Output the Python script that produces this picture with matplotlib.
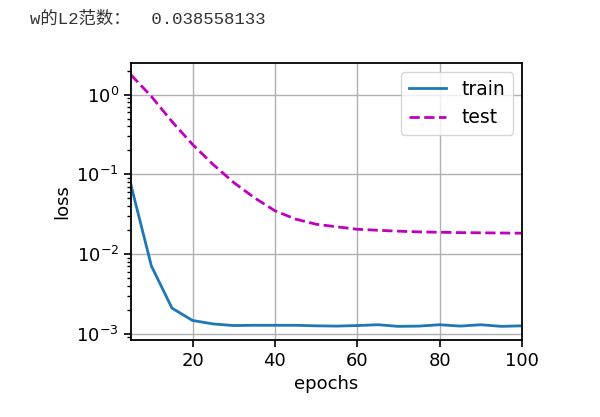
import matplotlib
matplotlib.use("Agg")
import matplotlib.pyplot as plt

epochs = [5, 10, 15, 20, 25, 30, 35, 40, 45, 50, 55, 60, 65, 70, 75, 80, 85, 90, 95, 100]
train_loss = [0.075, 0.0071, 0.0021, 0.00147, 0.00133, 0.00127, 0.00128, 0.00128, 0.00128, 0.00126,
              0.00125, 0.00127, 0.0013, 0.00124, 0.00125, 0.0013, 0.00125, 0.0013, 0.00124, 0.00126]
test_loss = [1.78, 0.95, 0.46, 0.237, 0.133, 0.079, 0.051, 0.035, 0.0275, 0.0237,
             0.022, 0.0205, 0.0199, 0.0194, 0.019, 0.0188, 0.0186, 0.0185, 0.0184, 0.0183]
header = "w的L2范数：  0.038558133"

fig = plt.figure(figsize=(6, 4.17), dpi=100)
ax = fig.add_axes([0.218, 0.185, 0.652, 0.664])
ax.plot(epochs, train_loss, '-', color='#1f77b4', lw=2, label='train')
ax.plot(epochs, test_loss, 'm--', lw=2, label='test')
ax.set_yscale('log')
ax.set_xlim(5, 100)
ax.set_ylim(8.4e-4, 2.5)
ax.set_xlabel('epochs', fontsize=13)
ax.set_ylabel('loss', fontsize=13)
ax.tick_params(labelsize=13, length=5, width=1.2)
ax.tick_params(which='minor', length=3, width=1)
for s in ax.spines.values():
    s.set_linewidth(1.3)
ax.grid(True, color='#b0b0b0', lw=1)
ax.legend(loc='upper right', fontsize=13.5)
fig.text(0.05, 0.955, header, fontsize=12.5, color='#333333', va='center', ha='left',
         family=['Liberation Mono', 'Noto Sans CJK SC'])
fig.savefig('out.png', dpi=100)
